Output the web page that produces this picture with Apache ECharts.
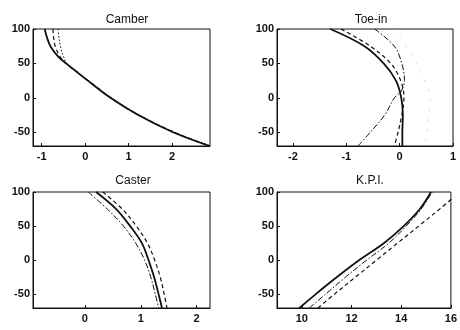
<!DOCTYPE html>
<html><head><meta charset="utf-8">
<script src="https://cdn.jsdelivr.net/npm/echarts@6/dist/echarts.min.js"></script>
<style>html,body{margin:0;padding:0;background:#fff}#c{width:460px;height:330px}</style>
</head><body><div id="c"></div>
<script>
// ---- data ----
const titles = ['Camber', 'Toe-in', 'Caster', 'K.P.I.'];
const yTicks = [-50, 0, 50, 100];

const camberY = [100, 90, 75, 60, 50, 40, 25, 0, -25, -50, -70];
const camberSolid = [-0.93, -0.89, -0.80, -0.62, -0.44, -0.24, 0.06, 0.58, 1.22, 2.02, 2.86];
const camberDashed = [-0.74, -0.73, -0.69, -0.58, -0.44, -0.24, 0.07, 0.59, 1.23, 2.04, 2.87];
const camberDotted = [-0.62, -0.61, -0.57, -0.50, -0.42, -0.23, 0.08, 0.60, 1.25, 2.06, 2.89];
const camberTicks = [-1, 0, 1, 2];

const toeY = [100, 75, 50, 25, 0, -25, -50, -70];
const toeSolid = [-1.30, -0.66, -0.30, -0.07, 0.03, 0.06, 0.05, 0.05];
const toeDashed = [-1.10, -0.55, -0.17, 0.02, 0.08, 0.04, -0.03, -0.10];
const toeDotY = [100, 75, 50, 25, 10, 0, -25, -50, -70];
const toeDashDot = [-0.47, -0.10, 0.04, 0.09, 0.03, -0.10, -0.28, -0.55, -0.78];
const toeFaintY = [100, 62, 20, 0, -35, -70];
const toeFaint = [-0.10, 0.22, 0.50, 0.57, 0.53, 0.48];
const toeTicks = [-2, -1, 0, 1];

const casterY = [100, 75, 50, 25, 0, -25, -50, -70];
const casterSolid = [0.20, 0.56, 0.81, 1.02, 1.14, 1.24, 1.32, 1.38];
const casterDashed = [0.32, 0.67, 0.92, 1.12, 1.25, 1.35, 1.42, 1.47];
const casterDashDot = [0.06, 0.40, 0.69, 0.91, 1.07, 1.18, 1.26, 1.32];
const casterTicks = [0, 1, 2];

const kpiY = [-70, -50, -25, 0, 25, 50, 75, 100];
const kpiSolid = [9.90, 10.55, 11.40, 12.30, 13.30, 14.10, 14.75, 15.20];
const kpiDashDot = [10.30, 10.95, 11.75, 12.60, 13.50, 14.20, 14.80, 15.25];
const kpiDashed = [10.65, 11.30, 12.15, 13.00, 13.85, 14.70, 15.55, 16.35];
const kpiTicks = [10, 12, 14, 16];

// ---- build ----
const pair = (xs, ys) => xs.map((x, i) => [x, ys[i]]);
const grids = [
  {left: 33, top: 29, width: 177, height: 117},
  {left: 277, top: 29, width: 176, height: 117},
  {left: 33, top: 192, width: 177, height: 116},
  {left: 277, top: 192, width: 176, height: 116}
];
const xRanges = [[-1.2, 2.87], [-2.3, 1], [-0.93, 2.24], [9, 16]];
const xTickSets = [camberTicks, toeTicks, casterTicks, kpiTicks];
const titlePos = [[122, 9], [366, 9], [128, 170], [365, 170]];
const labelFont = {fontFamily: 'Liberation Sans, Arial, sans-serif', fontSize: 11, fontWeight: 'bold', color: '#111'};

const SOLID = {type: 'solid', width: 1.8};
const DASH = {type: [4, 3], width: 1.2};
const DASHDOT = {type: [6, 2, 1.5, 2], width: 1};
const DOT = {type: [1.5, 2], width: 1};

function ser(idx, xs, ys, style, color) {
  return {
    type: 'line', xAxisIndex: idx, yAxisIndex: idx, data: pair(xs, ys),
    smooth: 0.35, showSymbol: false, symbol: 'none', clip: true, silent: true,
    lineStyle: Object.assign({color: color || '#111'}, style)
  };
}

const option = {
  backgroundColor: '#fff',
  animation: false,
  title: titles.map((t, i) => ({
    text: t, left: titlePos[i][0], top: titlePos[i][1], textAlign: 'center',
    textStyle: {fontFamily: 'Liberation Sans, Arial, sans-serif', fontSize: 12, fontWeight: 'normal', color: '#111'}
  })),
  grid: grids.map(g => Object.assign({show: true, borderColor: '#111', borderWidth: 1, backgroundColor: '#fff'}, g)),
  xAxis: grids.map((g, i) => ({
    type: 'value', gridIndex: i, min: xRanges[i][0], max: xRanges[i][1],
    axisLine: {show: true, onZero: false, lineStyle: {color: '#111', width: 1}},
    axisTick: {show: true, inside: true, length: 3, customValues: xTickSets[i], lineStyle: {color: '#111'}},
    axisLabel: Object.assign({show: true, margin: 5, customValues: xTickSets[i], showMinLabel: true, showMaxLabel: true}, labelFont),
    splitLine: {show: false}
  })),
  yAxis: grids.map((g, i) => ({
    type: 'value', gridIndex: i, min: -70, max: 100,
    axisLine: {show: true, onZero: false, lineStyle: {color: '#111', width: 1}},
    axisTick: {show: true, inside: true, length: 3, customValues: yTicks, lineStyle: {color: '#111'}},
    axisLabel: Object.assign({show: true, margin: 3, customValues: yTicks}, labelFont),
    splitLine: {show: false}
  })),
  series: [
    ser(0, camberDotted, camberY, DOT),
    ser(0, camberDashed, camberY, DASH),
    ser(0, camberSolid, camberY, SOLID),

    ser(1, toeFaint, toeFaintY, {type: [1, 9], width: 1}, '#aaa'),
    ser(1, toeDashDot, toeDotY, DASHDOT),
    ser(1, toeDashed, toeY, DASH),
    ser(1, toeSolid, toeY, SOLID),

    ser(2, casterDashDot, casterY, DASHDOT),
    ser(2, casterDashed, casterY, DASH),
    ser(2, casterSolid, casterY, SOLID),

    ser(3, kpiDashed, kpiY, DASH),
    ser(3, kpiDashDot, kpiY, DASHDOT),
    ser(3, kpiSolid, kpiY, SOLID)
  ]
};
const chart = echarts.init(document.getElementById('c'), null, {renderer: 'canvas'});
chart.setOption(option);
</script>
</body></html>
